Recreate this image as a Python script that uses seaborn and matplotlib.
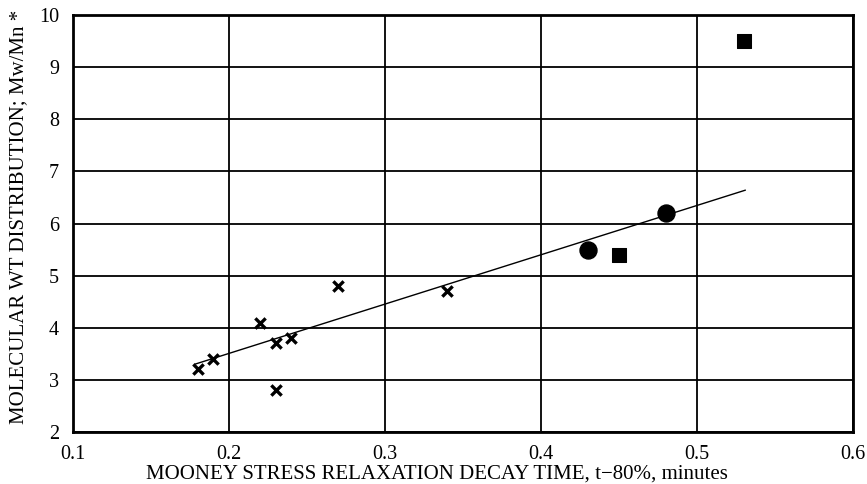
import matplotlib
matplotlib.use("Agg")
import matplotlib.pyplot as plt
import seaborn as sns
import pandas as pd

# Measured points, grouped by symbol
cross_x = [0.18, 0.19, 0.22, 0.23, 0.24, 0.23, 0.27, 0.34]
cross_y = [3.2, 3.4, 4.1, 3.7, 3.8, 2.8, 4.8, 4.7]
circle_x = [0.43, 0.48]
circle_y = [5.5, 6.2]
square_x = [0.45, 0.53]
square_y = [5.4, 9.5]

# Trend line endpoints
trend_x = [0.178, 0.531]
trend_y = [3.3, 6.64]

x_ticks = [0.1, 0.2, 0.3, 0.4, 0.5, 0.6]
x_tick_labels = ["0.1", "0.2", "0.3", "0.4", "0.5", "0.6"]
y_ticks = [2, 3, 4, 5, 6, 7, 8, 9, 10]

sns.set_theme(style="white")
plt.rcParams["font.family"] = ["Liberation Serif", "DejaVu Serif"]

fig = plt.figure(figsize=(8.67, 4.84), dpi=100)
ax = fig.add_axes([0.0842, 0.1074, 0.8997, 0.8616])

sns.lineplot(x=trend_x, y=trend_y, ax=ax, color="black", linewidth=1.0, zorder=3)
sns.scatterplot(x=cross_x, y=cross_y, ax=ax, marker="x", s=55, color="black",
                linewidth=2.4, zorder=4)
sns.scatterplot(x=circle_x, y=circle_y, ax=ax, marker="o", s=150, color="black",
                edgecolor="black", zorder=4)
sns.scatterplot(x=square_x, y=square_y, ax=ax, marker="s", s=90, color="black",
                edgecolor="black", zorder=4)

ax.set_xlim(0.1, 0.6)
ax.set_ylim(2, 10)
ax.set_xticks(x_ticks)
ax.set_xticklabels(x_tick_labels)
ax.set_yticks(y_ticks)
ax.grid(True, color="black", linewidth=1.3)
ax.set_axisbelow(True)
for side in ax.spines.values():
    side.set_color("black")
    side.set_linewidth(2.0)
ax.tick_params(axis="both", length=0, labelsize=14.5, colors="black")
ax.tick_params(axis="x", pad=9)
ax.tick_params(axis="y", pad=10)

ax.set_xlabel("MOONEY STRESS RELAXATION DECAY TIME, t\u221280%, minutes",
              fontsize=15, color="black")
ax.set_ylabel("MOLECULAR WT DISTRIBUTION; Mw/Mn *", fontsize=15,
              color="black")
ax.xaxis.set_label_coords(0.467, -0.079)
ax.yaxis.set_label_coords(-0.058, 0.517)

fig.savefig("out.png", dpi=100, facecolor="white")
